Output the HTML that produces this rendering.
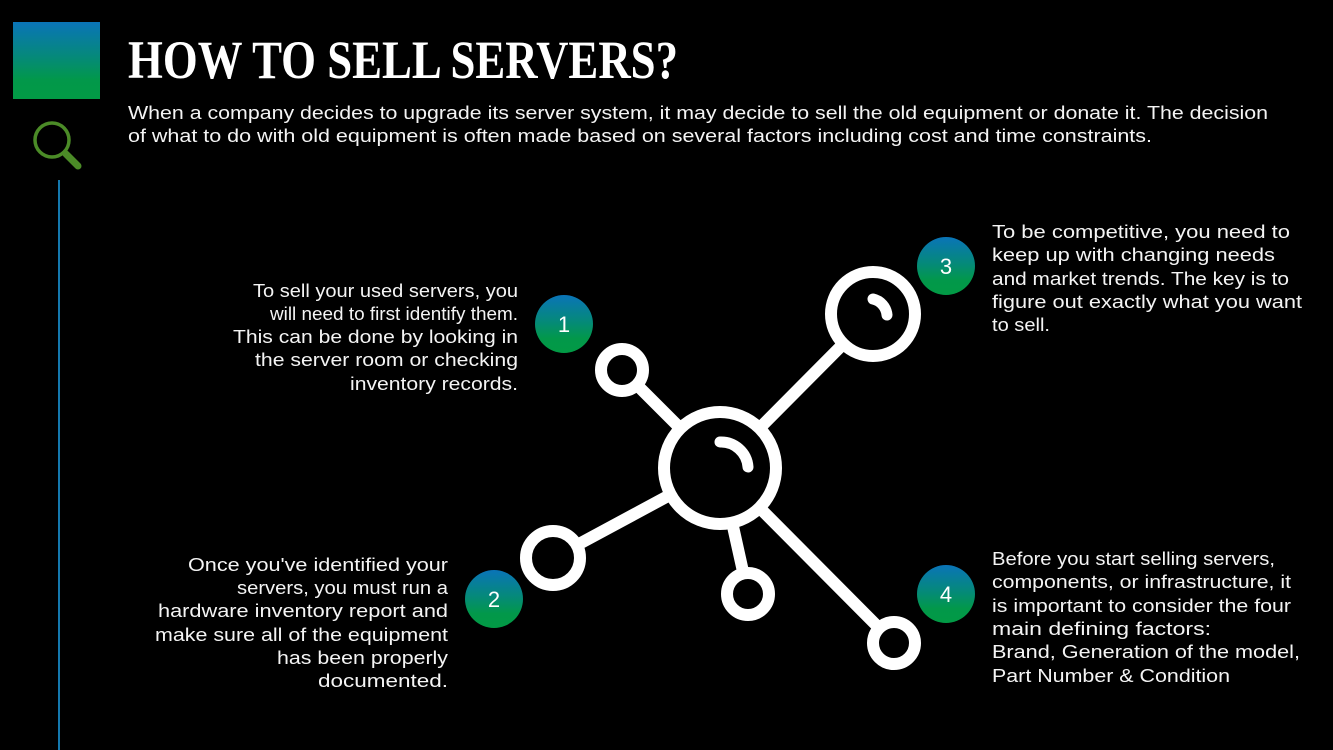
<!DOCTYPE html>
<html><head><meta charset="utf-8"><style>html,body{margin:0;padding:0;background:#000;}svg{display:block}</style></head>
<body>
<svg width="1333" height="750" viewBox="0 0 1333 750" xmlns="http://www.w3.org/2000/svg" font-family="'Liberation Sans', sans-serif">
<defs>
<linearGradient id="g" x1="0" y1="0" x2="0" y2="1">
<stop offset="0" stop-color="#0a74b8"/><stop offset="0.45" stop-color="#05897a"/><stop offset="0.75" stop-color="#02984a"/><stop offset="1" stop-color="#029a45"/>
</linearGradient>
</defs>
<rect width="1333" height="750" fill="#000"/>
<rect x="13" y="22" width="87" height="77" fill="url(#g)"/>
<circle cx="52" cy="140" r="17" fill="none" stroke="#4b8b27" stroke-width="3.5"/>
<line x1="66" y1="154" x2="78" y2="166" stroke="#4b8b27" stroke-width="7" stroke-linecap="round"/>
<line x1="59" y1="180" x2="59" y2="750" stroke="#1aa0e8" stroke-width="1.5"/>
<text x="128" y="78" font-family="'Liberation Serif', serif" font-weight="bold" font-size="54" fill="#fff" textLength="550" lengthAdjust="spacingAndGlyphs">HOW TO SELL SERVERS?</text>
<g fill="#f4f4f4" font-size="18">
<text x="128" y="119" textLength="1140" lengthAdjust="spacingAndGlyphs">When a company decides to upgrade its server system, it may decide to sell the old equipment or donate it. The decision</text>
<text x="128" y="142" textLength="1024" lengthAdjust="spacingAndGlyphs">of what to do with old equipment is often made based on several factors including cost and time constraints.</text>
</g>
<g fill="#f4f4f4" font-size="18" text-anchor="end">
<text x="518" y="297" textLength="265" lengthAdjust="spacingAndGlyphs">To sell your used servers, you</text>
<text x="518" y="320" textLength="248" lengthAdjust="spacingAndGlyphs">will need to first identify them.</text>
<text x="518" y="343" textLength="285" lengthAdjust="spacingAndGlyphs">This can be done by looking in</text>
<text x="518" y="366" textLength="263" lengthAdjust="spacingAndGlyphs">the server room or checking</text>
<text x="518" y="390" textLength="168" lengthAdjust="spacingAndGlyphs">inventory records.</text>
<text x="448" y="571" textLength="260" lengthAdjust="spacingAndGlyphs">Once you've identified your</text>
<text x="448" y="594" textLength="211" lengthAdjust="spacingAndGlyphs">servers, you must run a</text>
<text x="448" y="617" textLength="290" lengthAdjust="spacingAndGlyphs">hardware inventory report and</text>
<text x="448" y="641" textLength="293" lengthAdjust="spacingAndGlyphs">make sure all of the equipment</text>
<text x="448" y="664" textLength="171" lengthAdjust="spacingAndGlyphs">has been properly</text>
<text x="448" y="687" textLength="130" lengthAdjust="spacingAndGlyphs">documented.</text>
</g>
<g fill="#f4f4f4" font-size="18">
<text x="992" y="238" textLength="298" lengthAdjust="spacingAndGlyphs">To be competitive, you need to</text>
<text x="992" y="261" textLength="283" lengthAdjust="spacingAndGlyphs">keep up with changing needs</text>
<text x="992" y="285" textLength="297" lengthAdjust="spacingAndGlyphs">and market trends. The key is to</text>
<text x="992" y="308" textLength="310" lengthAdjust="spacingAndGlyphs">figure out exactly what you want</text>
<text x="992" y="331" textLength="58" lengthAdjust="spacingAndGlyphs">to sell.</text>
<text x="992" y="565" textLength="283" lengthAdjust="spacingAndGlyphs">Before you start selling servers,</text>
<text x="992" y="588" textLength="299" lengthAdjust="spacingAndGlyphs">components, or infrastructure, it</text>
<text x="992" y="612" textLength="299" lengthAdjust="spacingAndGlyphs">is important to consider the four</text>
<text x="992" y="635" textLength="219" lengthAdjust="spacingAndGlyphs">main defining factors:</text>
<text x="992" y="658" textLength="308" lengthAdjust="spacingAndGlyphs">Brand, Generation of the model,</text>
<text x="992" y="682" textLength="238" lengthAdjust="spacingAndGlyphs">Part Number &amp; Condition</text>
</g>
<g stroke="#fff" stroke-width="12" fill="none" stroke-linecap="round">
<line x1="720" y1="468" x2="622" y2="370"/>
<line x1="720" y1="468" x2="873" y2="314"/>
<line x1="720" y1="468" x2="553" y2="558"/>
<line x1="720" y1="468" x2="748" y2="594"/>
<line x1="720" y1="468" x2="894" y2="643"/>
</g>
<g stroke="#fff" stroke-width="12" fill="#000">
<circle cx="720" cy="468" r="56"/>
<circle cx="873" cy="314" r="42"/>
<circle cx="622" cy="370" r="21"/>
<circle cx="553" cy="558" r="27"/>
<circle cx="748" cy="594" r="21"/>
<circle cx="894" cy="643" r="21"/>
</g>
<g stroke="#fff" stroke-width="11" fill="none" stroke-linecap="round">
<path d="M720 442 A27 27 0 0 1 748 467"/>
<path d="M873 299 A18 18 0 0 1 887 315"/>
</g>
<g>
<circle cx="564" cy="324" r="29" fill="url(#g)"/>
<circle cx="494" cy="599" r="29" fill="url(#g)"/>
<circle cx="946" cy="266" r="29" fill="url(#g)"/>
<circle cx="946" cy="594" r="29" fill="url(#g)"/>
</g>
<g fill="#fff" font-size="22" text-anchor="middle">
<text x="564" y="332">1</text>
<text x="494" y="607">2</text>
<text x="946" y="274">3</text>
<text x="946" y="602">4</text>
</g>
</svg>
</body></html>
